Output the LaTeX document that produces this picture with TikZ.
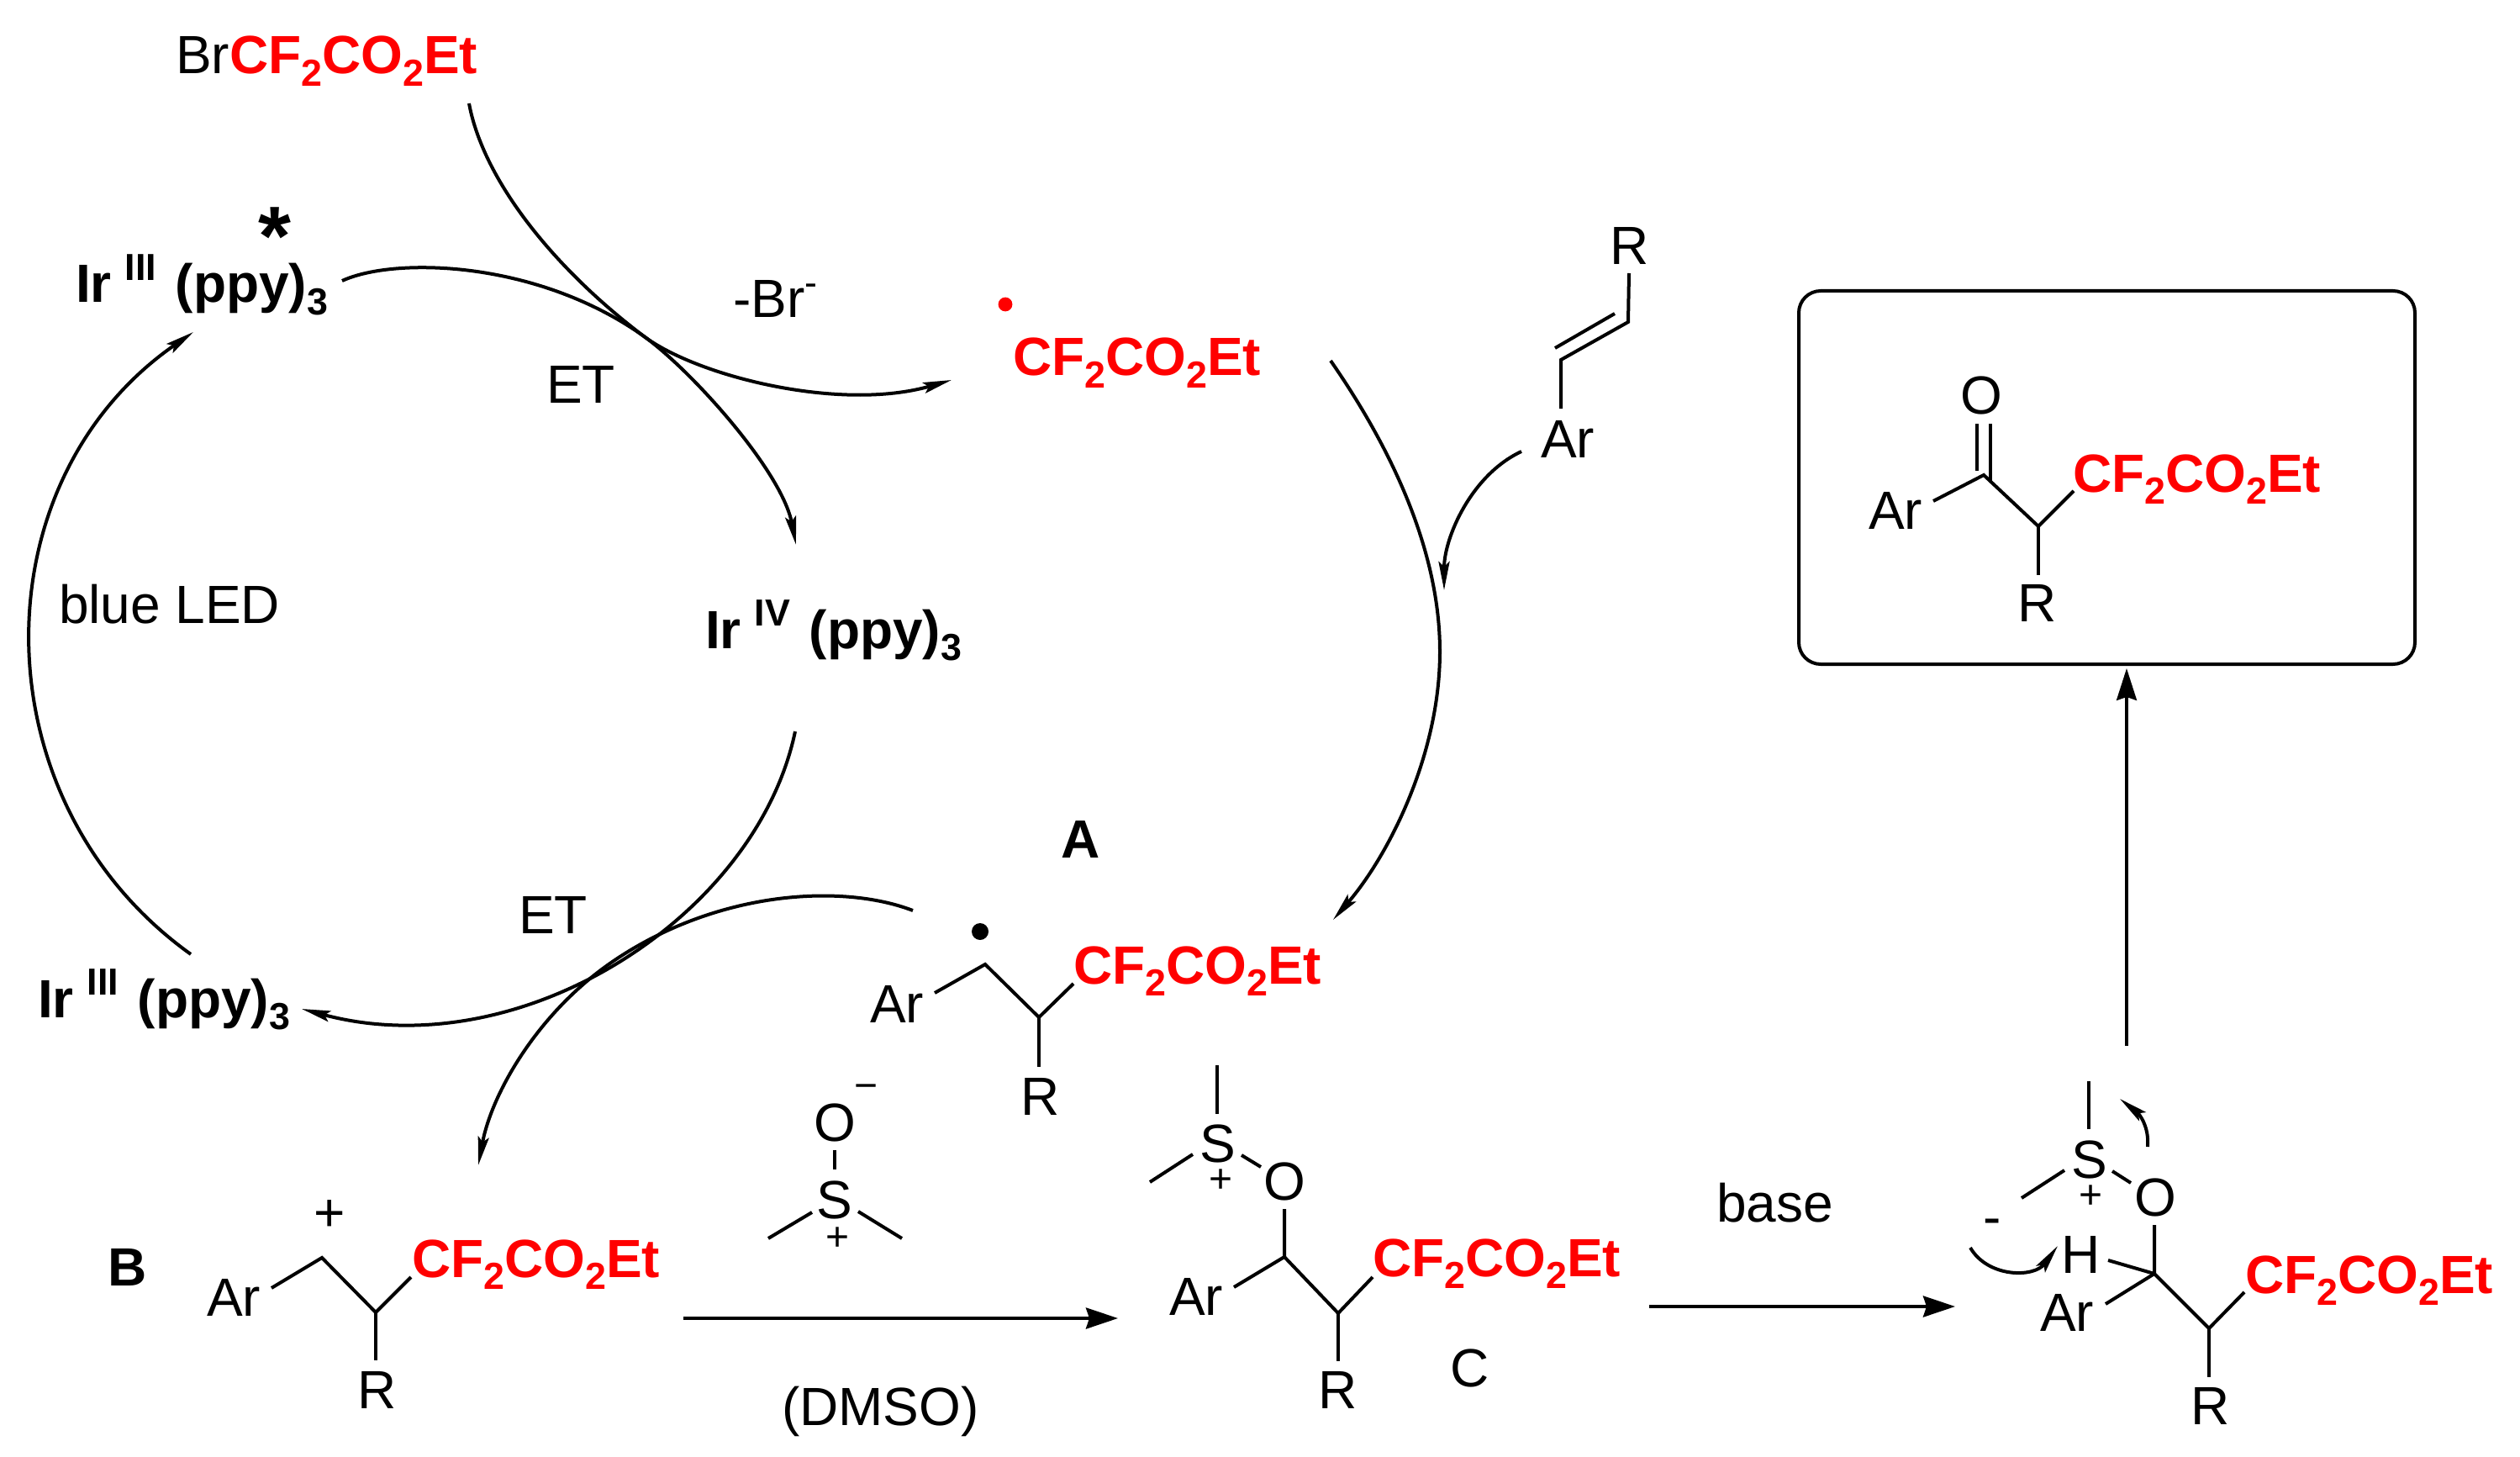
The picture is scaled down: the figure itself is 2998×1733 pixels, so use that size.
\documentclass[tikz,border=0pt]{standalone}
\usepackage{fontspec}
\setmainfont{Liberation Sans}
\usetikzlibrary{arrows.meta}
\definecolor{cfred}{RGB}{255,0,0}
\newcommand\dn[1]{\raisebox{-0.23em}{\fontsize{22.4}{24}\selectfont #1}}
\newcommand\upp[1]{\raisebox{0.42em}{\fontsize{22.4}{24}\selectfont #1}}
\newcommand\cfg{\textcolor{cfred}{\textbf{CF\dn{2}CO\dn{2}Et}}}
\newcommand\irc[1]{\textbf{Ir\hspace{0.25em}\upp{#1}\hspace{0.355em}(ppy)\dn{3}}}
\tikzset{
  x=0.5pt,y=-0.5pt,
  lbl/.style={anchor=base west,inner sep=0pt,outer sep=0pt,xshift=-1.5pt,font=\fontsize{32}{38}\selectfont},
  glyph/.style={anchor=center,inner sep=0pt,outer sep=0pt,font=\fontsize{32}{38}\selectfont},
  smallglyph/.style={anchor=center,inner sep=0pt,outer sep=0pt,font=\fontsize{24}{28}\selectfont},
  bond/.style={line width=2pt,line cap=butt,line join=miter},
  curvearrow/.style={line width=2pt,line cap=butt,-{Stealth[length=17pt,width=6.5pt,inset=3pt]}},
  rxn/.style={line width=2pt,-{Stealth[length=19pt,width=12.5pt,inset=2pt]}},
  upr/.style={line width=1.6pt,-{Stealth[length=19pt,width=12pt,inset=2pt]}},
  framebox/.style={draw,line width=2pt,rounded corners=13pt,minimum width=366.5pt,minimum height=222pt,inner sep=0pt,anchor=north west},
}
\begin{document}
\begin{tikzpicture}
\useasboundingbox (0,0) rectangle (2998,1733);
% labels
\node[lbl] (brcf) at (212,88) {Br\cfg};
\node[glyph,font=\fontsize{50}{50}\selectfont\bfseries] (star) at (327,281) {*};
\node[lbl] (ir3top) at (93,360) {\irc{III}};
\node[lbl] (ir4) at (842,771) {\irc{IV}};
\node[lbl] (ir3low) at (48,1210) {\irc{III}};
\node[lbl] (brm) at (875,378) {-Br\upp{-}};
\node[lbl] (cfrad) at (1208,447) {\cfg};
\node[lbl] (et1) at (653,480) {ET};
\node[lbl] (et2) at (620,1110) {ET};
\node[lbl] (led) at (73,741) {blue LED};
\node[lbl] (rAlk) at (1918,315) {R};
\node[lbl] (arAlk) at (1836,544) {Ar};
\node[lbl,font=\fontsize{32}{38}\selectfont\bfseries] (labA) at (1265,1020) {A};
\node[lbl,font=\fontsize{32}{38}\selectfont\bfseries] (labB) at (131,1529) {B};
\node[lbl] (labC) at (1728,1649) {C};
\node[lbl] (base) at (2045,1453) {base};
\node[lbl] (dmsoText) at (933,1695) {(DMSO)};
% radical dots
\fill[cfred] (1196,362) circle[radius=4.2pt];
\fill (1166,1108) circle[radius=5pt];
% box
\node[framebox] (prodbox) at (2138,344) {};
% product
\node[lbl] (pO) at (2335,493) {O};
\node[lbl] (pAr) at (2226,629) {Ar};
\node[lbl] (pCF) at (2469,585) {\cfg};
\node[lbl] (pR) at (2403,739) {R};
\coordinate (pc1) at (2360,565); \coordinate (pc2) at (2425,626);
\coordinate (pa) at (2300,596); \coordinate (pb) at (2467,584);
\coordinate (pr) at (2425,684);
\coordinate (po1) at (2352,504); \coordinate (po2) at (2368,504);
\coordinate (pe1) at (2352,560); \coordinate (pe2) at (2368,572);
\draw[bond] (po1) -- (pe1);
\draw[bond] (po2) -- (pe2);
\draw[bond] (pa) -- (pc1) -- (pc2) -- (pb);
\draw[bond] (pc2) -- (pr);
% alkene
\coordinate (ak1) at (1938,325); \coordinate (ak2) at (1937,383);
\coordinate (ak3) at (1857,428); \coordinate (ak4) at (1857,486);
\coordinate (ak5) at (1921,373); \coordinate (ak6) at (1850,414);
\draw[bond] (ak1) -- (ak2) -- (ak3) -- (ak4);
\draw[bond] (ak5) -- (ak6);
% A
\node[lbl] (aAr) at (1038,1216) {Ar};
\node[lbl] (aCF) at (1280,1170) {\cfg};
\node[lbl] (aR) at (1217,1326) {R};
\coordinate (a1) at (1112,1181); \coordinate (a2) at (1172,1147);
\coordinate (a3) at (1236,1210); \coordinate (a4) at (1277,1170);
\coordinate (a5) at (1236,1269);
\draw[bond] (a1) -- (a2) -- (a3) -- (a4);
\draw[bond] (a3) -- (a5);
% B
\node[glyph] (bPlus) at (392,1446) {+};
\node[lbl] (bAr) at (249,1565) {Ar};
\node[lbl] (bCF) at (493,1519) {\cfg};
\node[lbl] (bR) at (428,1675) {R};
\coordinate (b1) at (323,1532); \coordinate (b2) at (383,1496);
\coordinate (b3) at (447,1561); \coordinate (b4) at (489,1519);
\coordinate (b5) at (447,1618);
\draw[bond] (b1) -- (b2) -- (b3) -- (b4);
\draw[bond] (b3) -- (b5);
% DMSO
\node[lbl] (dO) at (971,1357) {O};
\node[smallglyph] (dMinus) at (1031,1299) {−};
\node[lbl] (dS) at (974,1449) {S};
\node[smallglyph] (dPlus) at (997,1474) {+};
\coordinate (d1) at (993,1368); \coordinate (d2) at (993,1391);
\coordinate (d3) at (966,1442); \coordinate (d4) at (914,1473);
\coordinate (d5) at (1021,1441); \coordinate (d6) at (1073,1473);
\draw[bond] (d1) -- (d2);
\draw[bond] (d3) -- (d4);
\draw[bond] (d5) -- (d6);
% C
\node[lbl] (cS) at (1430,1382) {S};
\node[smallglyph] (cPlus) at (1452,1405) {+};
\node[lbl] (cO) at (1506,1427) {O};
\node[lbl] (cAr) at (1394,1564) {Ar};
\node[lbl] (cCF) at (1636,1518) {\cfg};
\node[lbl] (cR) at (1571,1675) {R};
\coordinate (c1) at (1448,1267); \coordinate (c2) at (1448,1325);
\coordinate (c3) at (1419,1373); \coordinate (c4) at (1368,1406);
\coordinate (c5) at (1477,1374); \coordinate (c6) at (1500,1388);
\coordinate (c7) at (1528,1438); \coordinate (c8) at (1528,1495);
\coordinate (c9) at (1468,1531); \coordinate (c10) at (1592,1562);
\coordinate (c11) at (1633,1519); \coordinate (c12) at (1592,1619);
\draw[bond] (c1) -- (c2);
\draw[bond] (c3) -- (c4);
\draw[bond] (c5) -- (c6);
\draw[bond] (c7) -- (c8) -- (c10) -- (c11);
\draw[bond] (c8) -- (c9);
\draw[bond] (c10) -- (c12);
% D
\node[lbl] (eS) at (2467,1401) {S};
\node[smallglyph] (ePlus) at (2487,1424) {+};
\node[lbl] (eO) at (2542,1446) {O};
\node[lbl] (eH) at (2455,1514) {H};
\node[glyph] (eMinus) at (2370,1460) {-};
\node[lbl] (eAr) at (2430,1583) {Ar};
\node[lbl] (eCF) at (2674,1538) {\cfg};
\node[lbl] (eR) at (2609,1694) {R};
\coordinate (e1) at (2485,1286); \coordinate (e2) at (2485,1343);
\coordinate (e3) at (2456,1392); \coordinate (e4) at (2405,1425);
\coordinate (e5) at (2513,1393); \coordinate (e6) at (2535,1407);
\coordinate (e7) at (2563,1457); \coordinate (e8) at (2563,1515);
\coordinate (e9) at (2505,1551); \coordinate (e10) at (2628,1580);
\coordinate (e11) at (2670,1537); \coordinate (e12) at (2628,1638);
\coordinate (e13) at (2508,1499);
\draw[bond] (e1) -- (e2);
\draw[bond] (e3) -- (e4);
\draw[bond] (e5) -- (e6);
\draw[bond] (e7) -- (e8) -- (e10) -- (e11);
\draw[bond] (e8) -- (e9);
\draw[bond] (e8) -- (e13);
\draw[bond] (e10) -- (e12);
% arcs: free ends
\coordinate (l1) at (227,1135); \coordinate (l2) at (230,395);
\coordinate (t1) at (407,334); \coordinate (t2) at (766,400); \coordinate (t3) at (947,648);
\coordinate (r1) at (558,123); \coordinate (r2) at (766,400); \coordinate (r3) at (1132,452);
\coordinate (m1) at (946,870); \coordinate (m2) at (359,1200);
\coordinate (g1) at (1583,429); \coordinate (g2) at (1713,775); \coordinate (g3) at (1586,1094);
\coordinate (h1) at (1086,1083); \coordinate (h2) at (727,1145); \coordinate (h3) at (569,1386);
\coordinate (s1) at (1810,537); \coordinate (s2) at (1718,702);
\coordinate (u1) at (2344,1484); \coordinate (u2) at (2448,1482);
\coordinate (v1) at (2555,1364); \coordinate (v2) at (2522,1307);
\draw[curvearrow] (l1) .. controls (-27,953) and (-27,573) .. (l2);
\draw[curvearrow] (t1) .. controls (470,305) and (640,310) .. (t2) .. controls (822,440) and (930,560) .. (t3);
\draw[curvearrow] (r1) .. controls (575,215) and (660,320) .. (r2) .. controls (830,448) and (1000,490) .. (r3);
\draw[curvearrow] (m1) .. controls (900,1090) and (620,1270) .. (m2);
\draw[curvearrow] (g1) .. controls (1660,540) and (1713,660) .. (g2) .. controls (1713,900) and (1650,1020) .. (g3);
\draw[curvearrow] (h1) .. controls (1000,1050) and (850,1060) .. (h2) .. controls (640,1205) and (585,1300) .. (h3);
\draw[curvearrow] (s1) .. controls (1750,565) and (1718,640) .. (s2);
\draw[curvearrow] (u1) .. controls (2365,1520) and (2420,1520) .. (u2);
\draw[curvearrow] (v1) .. controls (2557,1340) and (2545,1325) .. (v2);
% straight arrows
\coordinate (x1) at (813,1568); \coordinate (x2) at (1330,1568);
\coordinate (y1) at (1962,1554); \coordinate (y2) at (2326,1554);
\coordinate (w1) at (2530,1244); \coordinate (w2) at (2530,795);
\draw[rxn] (x1) -- (x2);
\draw[rxn] (y1) -- (y2);
\draw[upr] (w1) -- (w2);
\end{tikzpicture}
\end{document}
